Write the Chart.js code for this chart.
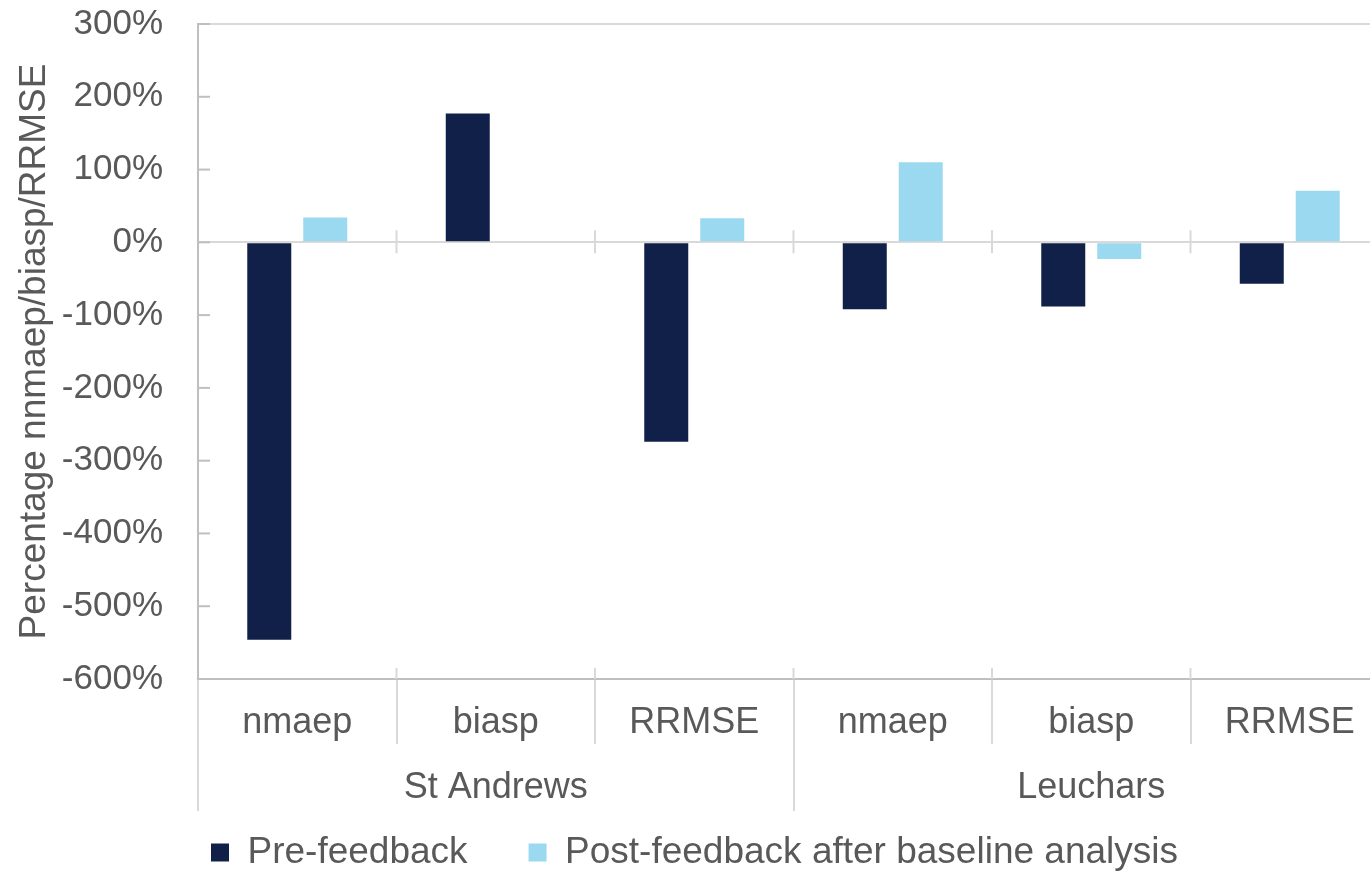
<!DOCTYPE html>
<html>
<head>
<meta charset="utf-8">
<script src="https://cdn.jsdelivr.net/npm/chart.js@4.4.1/dist/chart.umd.min.js"></script>
<style>
  html, body { margin: 0; padding: 0; background: #fff; overflow: hidden; }
  #wrap { width: 1370px; height: 871px; overflow: hidden; }
</style>
</head>
<body>
<div id="wrap"><canvas id="graphique" width="1390" height="871"></canvas></div>
<script>
// data
const categories = ['nmaep', 'biasp', 'RRMSE', 'nmaep', 'biasp', 'RRMSE'];
const sites = ['St Andrews', 'Leuchars'];
const preFeedback = [-546, 177, -274, -92, -88, -57];
const postFeedback = [34, 0, 33, 110, -23, 71];
const seriesNames = ['Pre-feedback', 'Post-feedback after baseline analysis'];

const police = "'Liberation Sans', Arial, sans-serif";
const gris = '#595959';

// petits traits: graduations vers l'interieur, traits sur la ligne du zero,
// prolongement des separateurs au-dessus de l'axe
const traits = {
    id: 'traits',
    beforeDatasetsDraw(chart) {
        const x = chart.scales.x;
        const y = chart.scales.y;
        const y0 = y.getPixelForValue(0);
        const ctx = chart.ctx;
        ctx.save();
        ctx.lineWidth = 2;
        ctx.strokeStyle = '#d9d9d9';
        for (let i = 1; i < categories.length; i++) {
            const xb = (x.getPixelForTick(i - 1) + x.getPixelForTick(i)) / 2;
            ctx.beginPath();
            ctx.moveTo(xb, y0 - 12);
            ctx.lineTo(xb, y0 + 11);
            ctx.moveTo(xb, x.top - 11);
            ctx.lineTo(xb, x.top);
            ctx.stroke();
        }
        ctx.strokeStyle = '#bfbfbf';
        y.ticks.forEach(t => {
            const py = y.getPixelForValue(t.value);
            ctx.beginPath();
            ctx.moveTo(y.right, py);
            ctx.lineTo(y.right + 12, py);
            ctx.stroke();
        });
        ctx.restore();
    }
};

const graph = document.getElementById('graphique');

new Chart(graph, {
    type: 'bar',
    data: {
        labels: categories,
        datasets: [{
            label: seriesNames[0],
            data: preFeedback,
            backgroundColor: '#112049',
            categoryPercentage: 0.564,
            barPercentage: 0.786
        }, {
            label: seriesNames[1],
            data: postFeedback,
            backgroundColor: '#9BD9F0',
            categoryPercentage: 0.564,
            barPercentage: 0.786
        }]
    },
    plugins: [traits],
    options: {
        responsive: false,
        animation: false,
        layout: { padding: { top: 24, right: 1, bottom: -10, left: 0 } },
        plugins: {
            tooltip: { enabled: false },
            legend: {
                position: 'bottom',
                labels: {
                    boxWidth: 18,
                    boxHeight: 18,
                    padding: 61,
                    color: gris,
                    font: { family: police, size: 37 }
                }
            }
        },
        scales: {
            y: {
                min: -600,
                max: 300,
                ticks: {
                    stepSize: 100,
                    padding: 0,
                    color: gris,
                    font: { family: police, size: 35 },
                    callback: v => v + '%'
                },
                grid: {
                    drawTicks: true,
                    tickLength: 35,
                    tickColor: 'rgba(0,0,0,0)',
                    lineWidth: 2,
                    color: c => (c.tick && (c.tick.value === 0 || c.tick.value === 300)) ? '#d9d9d9' : 'rgba(0,0,0,0)'
                },
                border: { color: '#bfbfbf', width: 2 },
                title: {
                    display: true,
                    text: 'Percentage nnmaep/biasp/RRMSE',
                    color: gris,
                    font: { family: police, size: 37 },
                    padding: { top: 13, bottom: 0 }
                },
                afterFit: s => { s.width = 198; }
            },
            x: {
                position: 'bottom',
                weight: 0,
                ticks: {
                    autoSkip: false,
                    maxRotation: 0,
                    mirror: true,
                    padding: -65.6,
                    color: gris,
                    font: { family: police, size: 36 }
                },
                grid: {
                    offset: true,
                    drawOnChartArea: false,
                    drawTicks: true,
                    tickLength: 65,
                    color: '#d9d9d9',
                    lineWidth: 2
                },
                border: { color: '#bfbfbf', width: 2 },
                afterFit: s => { s.height = 46; }
            },
            x2: {
                type: 'category',
                labels: sites,
                position: 'bottom',
                weight: 1,
                offset: true,
                ticks: {
                    autoSkip: false,
                    maxRotation: 0,
                    mirror: true,
                    padding: -84.6,
                    color: gris,
                    font: { family: police, size: 36 }
                },
                grid: {
                    offset: true,
                    drawOnChartArea: false,
                    drawTicks: true,
                    tickLength: 86,
                    color: '#d9d9d9',
                    lineWidth: 2
                },
                border: { display: false },
                afterFit: s => { s.height = 48; }
            }
        }
    }
});
</script>
</body>
</html>
